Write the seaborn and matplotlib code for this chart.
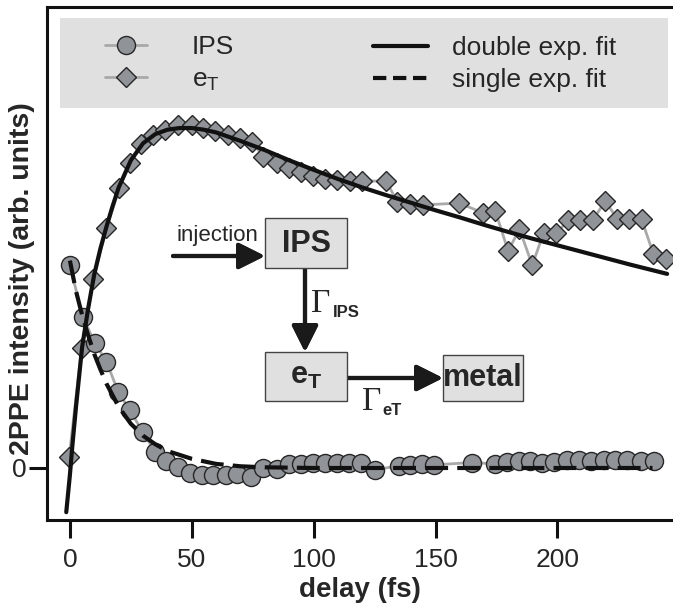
import numpy as np
import pandas as pd
import matplotlib
matplotlib.use("Agg")
import matplotlib.pyplot as plt
import seaborn as sns
from matplotlib.patches import Rectangle
from matplotlib.lines import Line2D

# ---------------- data ----------------
ips_t = [0, 5.2, 10.3, 15, 19.8, 24.6, 29.8, 34.9, 39.4, 44.4, 49.3, 54, 58.8, 63.9,
         68.6, 74.3, 79.4, 84.9, 89.7, 94.6, 99.7, 104.7, 109.5, 114.5, 119.5, 125,
         134.8, 139.6, 144.4, 149.2, 164.9, 174.5, 179.3, 184.1, 188.9, 193.7, 198.5,
         204, 208.8, 213.6, 219, 223.8, 228.6, 234.1, 239.5]
ips_v = [0.597, 0.445, 0.367, 0.313, 0.224, 0.17, 0.107, 0.048, 0.021, 0.003, -0.015,
         -0.02, -0.02, -0.02, -0.018, -0.026, 0.0, -0.004, 0.011, 0.012, 0.014, 0.016,
         0.016, 0.016, 0.016, -0.005, 0.006, 0.009, 0.012, 0.009, 0.016, 0.012, 0.019,
         0.021, 0.021, 0.016, 0.019, 0.024, 0.024, 0.021, 0.024, 0.024, 0.024, 0.021,
         0.021]

et_t = [-0.3, 4.8, 9.6, 15, 20.3, 24.6, 29, 34.2, 39, 44.5, 50, 54.7, 59.5, 65, 69.8,
        74.8, 79.4, 84.9, 89.7, 94.6, 99.6, 104.7, 109.5, 115, 120, 129.8, 134.3,
        139.6, 145, 159.8, 169.6, 174.5, 179.8, 184.4, 189.7, 194.3, 199.6, 204.5,
        209.4, 214.4, 219.7, 224.6, 229.2, 234.5, 239.4, 244.4]
et_v = [0.033, 0.352, 0.555, 0.705, 0.823, 0.896, 0.953, 0.979, 0.994, 1.009, 1.009,
        0.999, 0.99, 0.979, 0.97, 0.958, 0.916, 0.897, 0.882, 0.87, 0.86, 0.851, 0.846,
        0.843, 0.844, 0.844, 0.782, 0.776, 0.774, 0.779, 0.75, 0.756, 0.638, 0.703,
        0.597, 0.691, 0.691, 0.729, 0.729, 0.729, 0.785, 0.732, 0.732, 0.732, 0.629,
        0.615]

dfit_t = [-1.5, 0, 1, 2.5, 5, 7.5, 10, 12.5, 15, 17.5, 20, 25, 30, 35, 40, 45, 50, 55,
          60, 70, 80, 90, 100, 110, 120, 130, 140, 150, 160, 170, 180, 190, 200, 210,
          220, 230, 240, 245]
dfit_v = [-0.13, -0.02, 0.065, 0.18, 0.355, 0.47, 0.57, 0.645, 0.71, 0.77, 0.825,
          0.905, 0.955, 0.982, 0.995, 1.0, 1.0, 0.995, 0.987, 0.962, 0.935, 0.905,
          0.877, 0.85, 0.825, 0.802, 0.78, 0.758, 0.737, 0.715, 0.694, 0.674, 0.655,
          0.636, 0.617, 0.598, 0.58, 0.571]

sfit_t = [0, 2.5, 5, 7.5, 10, 12.5, 15, 20, 25, 30, 35, 40, 50, 60, 70, 80, 100, 150,
          200, 239]
sfit_v = [0.61, 0.52, 0.45, 0.39, 0.335, 0.29, 0.248, 0.18, 0.13, 0.095, 0.07, 0.05,
          0.027, 0.012, 0.005, 0.002, 0.0, 0.0, 0.0, 0.0]

x_ticks = [0, 50, 100, 150, 200]
y_ticks = [0]

# ---------------- style ----------------
sns.set_style("white")
plt.rcParams["font.family"] = ["Liberation Sans", "DejaVu Sans"]
plt.rcParams["mathtext.fontset"] = "custom"
plt.rcParams["mathtext.rm"] = "Liberation Sans"
plt.rcParams["mathtext.bf"] = "Liberation Sans:bold"

W, H = 673, 606
fig = plt.figure(figsize=(W / 100, H / 100), dpi=100)
ax = fig.add_axes([47 / W, 1 - 520 / H, (672 - 47) / W, (520 - 7) / H])


def fp(x, y):
    """top-left pixel -> figure fraction"""
    return (x / W, 1 - y / H)


face = "#909398"
edge = "#262626"
conn = "#a9a9a9"
fitc = "#111111"
ms_circle = 13
ms_diam = 10.5

df_et = pd.DataFrame({"t": et_t, "v": et_v})
df_ips = pd.DataFrame({"t": ips_t, "v": ips_v})
df_d = pd.DataFrame({"t": dfit_t, "v": dfit_v})
df_s = pd.DataFrame({"t": sfit_t, "v": sfit_v})

sns.lineplot(data=df_et, x="t", y="v", ax=ax, color=conn, lw=2, marker="D",
             markersize=ms_diam, markerfacecolor=face, markeredgecolor=edge,
             markeredgewidth=1.0, sort=False, estimator=None, zorder=2)
sns.lineplot(data=df_ips, x="t", y="v", ax=ax, color=conn, lw=2, marker="o",
             markersize=ms_circle, markerfacecolor=face, markeredgecolor=edge,
             markeredgewidth=1.0, sort=False, estimator=None, zorder=3)
sns.lineplot(data=df_d, x="t", y="v", ax=ax, color=fitc, lw=3, sort=False,
             estimator=None, zorder=4)
sns.lineplot(data=df_s, x="t", y="v", ax=ax, color=fitc, lw=3, sort=False,
             estimator=None, zorder=4, linestyle=(0, (5.5, 2.2)))

ax.set_xlim(-9.4, 247)
ax.set_ylim(-0.153, 1.356)
ax.set_xticks(x_ticks)
ax.set_xticklabels([str(v) for v in x_ticks], fontsize=19)
ax.set_yticks(y_ticks)
ax.set_yticklabels([str(v) for v in y_ticks], fontsize=19)
ax.tick_params(axis="both", direction="out", length=13, width=2.2, color="#111111")
ax.tick_params(axis="x", bottom=True, pad=7)
ax.tick_params(axis="y", left=True, pad=2)
for s in ["left", "top", "bottom"]:
    ax.spines[s].set_visible(True)
    ax.spines[s].set_linewidth(2.2)
    ax.spines[s].set_color("#111111")
ax.spines["right"].set_visible(False)
ax.set_xlabel("delay (fs)", fontsize=20, fontweight="bold", labelpad=4)
ax.set_ylabel("2PPE intensity (arb. units)", fontsize=20.5, fontweight="bold")
ax.yaxis.set_label_coords(-0.019, 0.47)

# ---------------- legend ----------------
fig.add_artist(Rectangle(fp(60, 108), (668 - 60) / W, (108 - 18) / H,
                         transform=fig.transFigure, facecolor="#e0e0e0",
                         edgecolor="none", zorder=1))
h_ips = Line2D([], [], color=conn, lw=2, marker="o", markersize=ms_circle,
               markerfacecolor=face, markeredgecolor=edge, markeredgewidth=1.0)
h_et = Line2D([], [], color=conn, lw=2, marker="D", markersize=ms_diam,
              markerfacecolor=face, markeredgecolor=edge, markeredgewidth=1.0)
h_d = Line2D([], [], color=fitc, lw=3)
h_s = Line2D([], [], color=fitc, lw=3, linestyle=(0, (3.2, 1.6)))

leg1 = fig.legend([h_ips, h_et], ["IPS", r"e$_\mathregular{T}$"], loc="center left",
                  bbox_to_anchor=fp(105, 64), bbox_transform=fig.transFigure,
                  frameon=False, fontsize=19, handlelength=1.6, handletextpad=1.7,
                  labelspacing=0.3, borderpad=0, borderaxespad=0)
leg2 = fig.legend([h_d, h_s], ["double exp. fit", "single exp. fit"],
                  loc="center left", bbox_to_anchor=fp(373, 64),
                  bbox_transform=fig.transFigure, frameon=False, fontsize=19,
                  handlelength=2.1, handletextpad=0.9, labelspacing=0.3,
                  borderpad=0, borderaxespad=0)
leg1.set_zorder(5)
leg2.set_zorder(5)

# ---------------- inset scheme ----------------
boxc = "#e0e0e0"


def box(x0, y0, x1, y1):
    fig.add_artist(Rectangle(fp(x0, y1), (x1 - x0) / W, (y1 - y0) / H,
                             transform=fig.transFigure, facecolor=boxc,
                             edgecolor="#444444", lw=1.0, zorder=6))


box(265, 218, 347, 268)
box(265, 352, 347, 401)
box(443, 355, 523, 401)
fig.text(*fp(306, 244), "IPS", fontsize=22, fontweight="bold", ha="center",
         va="center", zorder=7)
fig.text(*fp(306, 376), r"$\mathbf{e}_{\mathbf{T}}$", fontsize=22, ha="center",
         va="center", zorder=7)
fig.text(*fp(483, 378), "metal", fontsize=22, fontweight="bold", ha="center",
         va="center", zorder=7)

arrow_kw = dict(arrowstyle="-|>,head_length=0.8,head_width=0.4", lw=3,
                color="#1a1a1a", mutation_scale=20, shrinkA=0, shrinkB=0)
fig.add_artist(plt.annotate("", xy=fp(265, 256), xytext=fp(173, 256),
                            xycoords="figure fraction", arrowprops=arrow_kw))
fig.add_artist(plt.annotate("", xy=fp(305, 352), xytext=fp(305, 268),
                            xycoords="figure fraction", arrowprops=arrow_kw))
fig.add_artist(plt.annotate("", xy=fp(443, 378), xytext=fp(347, 378),
                            xycoords="figure fraction", arrowprops=arrow_kw))

fig.text(*fp(177, 241), "injection", fontsize=16, ha="left", va="baseline")
fig.text(*fp(311, 312), "Γ", fontsize=24, family=["Liberation Serif", "DejaVu Serif"],
         ha="left", va="baseline")
fig.text(*fp(333, 317), "IPS", fontsize=12, fontweight="bold", ha="left",
         va="baseline")
fig.text(*fp(362, 410), "Γ", fontsize=24, family=["Liberation Serif", "DejaVu Serif"],
         ha="left", va="baseline")
fig.text(*fp(382, 415), "eT", fontsize=12, fontweight="bold", ha="left",
         va="baseline")

fig.savefig("out.png", dpi=100)
